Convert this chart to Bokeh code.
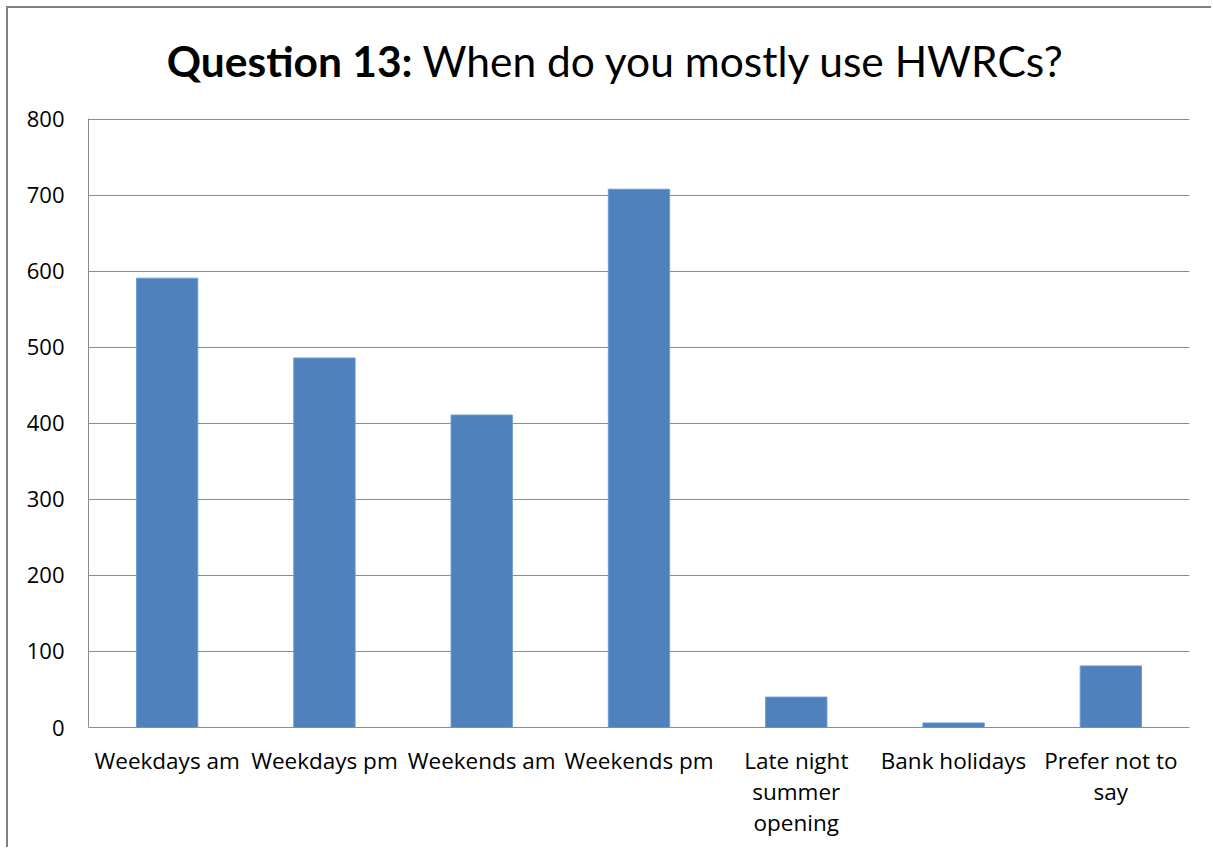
from bokeh.plotting import figure
from bokeh.models import FixedTicker, LinearAxis, Range1d
from bokeh.layouts import column
from bokeh.core.properties import value
from bokeh.embed import file_html
from bokeh.resources import INLINE

categories = ["Weekdays am", "Weekdays pm", "Weekends am", "Weekends pm",
              "Late night summer opening", "Bank holidays", "Prefer not to say"]
label_line1 = ["Weekdays am", "Weekdays pm", "Weekends am", "Weekends pm",
               "Late night", "Bank holidays", "Prefer not to"]
label_line2 = [" ", " ", " ", " ", "summer", " ", "say"]
label_line3 = [" ", " ", " ", " ", "opening", " ", " "]
counts = [591, 486, 411, 708, 40, 6, 81]
y_ticks = [0, 100, 200, 300, 400, 500, 600, 700, 800]

title_bold = "Question 13:"
title_rest = "When do you mostly use HWRCs?"

W = 1203
TH = 90

# ---- title strip ----
tf = figure(title=None, frame_width=W, frame_height=TH,
            x_range=Range1d(0, W), y_range=Range1d(0, TH),
            output_backend="svg", toolbar_location=None, tools="",
            x_axis_type=None, y_axis_type=None, min_border=0)
tf.grid.visible = False
tf.outline_line_color = None
tf.text(x=[324], y=[38], text=[title_bold], text_font=value("Lato"),
        text_font_style="bold", text_font_size="42.5px", text_align="right",
        text_baseline="alphabetic", text_color="#000000")
tf.text(x=[334], y=[38], text=[title_rest], text_font=value("Lato"),
        text_font_size="42.5px", text_align="left",
        text_baseline="alphabetic", text_color="#000000")

# ---- chart ----
n = len(categories)
xs = list(range(n))
p = figure(title=None, width=W, height=749, x_range=Range1d(-0.5, n - 0.5),
           y_range=Range1d(0, 801),
           output_backend="svg", toolbar_location=None, tools="",
           x_axis_type=None,
           min_border_left=80, min_border_right=22, min_border_top=20,
           min_border_bottom=120)
p.outline_line_color = None

p.vbar(x=xs, top=counts, width=0.39, fill_color="#4F81BD",
       line_color="#6f9bd1", line_width=1)

p.xgrid.grid_line_color = None
p.ygrid.ticker = FixedTicker(ticks=y_ticks)
p.ygrid.grid_line_color = "#8c8c8c"
p.ygrid.grid_line_width = 1

p.yaxis.ticker = FixedTicker(ticks=y_ticks)
p.yaxis.axis_line_color = "#8c8c8c"
p.yaxis.major_tick_line_color = None
p.yaxis.major_tick_out = 0
p.yaxis.minor_tick_line_color = None
p.yaxis.major_label_standoff = 24
p.yaxis.major_label_text_font = "Open Sans"
p.yaxis.major_label_text_font_size = "22px"
p.yaxis.major_label_text_color = "#000000"


def make_x(lines, standoff, line_color):
    ax = LinearAxis(ticker=FixedTicker(ticks=xs), axis_line_color=line_color)
    ax.major_tick_line_color = None
    ax.minor_tick_line_color = None
    ax.major_tick_out = 0
    ax.major_tick_in = 0
    ax.major_label_standoff = standoff
    ax.major_label_text_font = "Open Sans"
    ax.major_label_text_font_size = "22.5px"
    ax.major_label_text_color = "#000000"
    ax.major_label_overrides = {i: t for i, t in zip(xs, lines)}
    p.add_layout(ax, "below")


make_x(label_line1, 17, "#8c8c8c")
make_x(label_line2, -3, None)
make_x(label_line3, -3, None)

layout = column(tf, p, spacing=0)
layout.styles = {"border-left": "2px solid #808080", "border-top": "2px solid #808080",
                 "margin-left": "6px", "margin-top": "6px"}

open("out.html", "w").write(file_html(layout, INLINE))
